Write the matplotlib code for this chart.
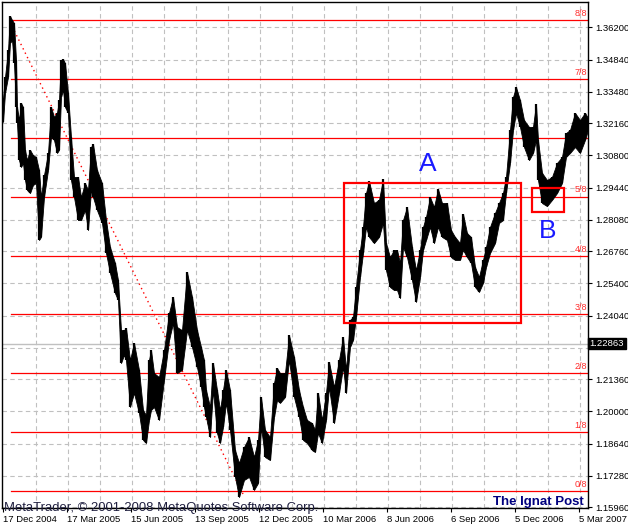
import matplotlib.pyplot as plt
from matplotlib.patches import Rectangle

# daily bars (bar index from 17 Dec 2004)
bars = [0, 2, 5, 7, 9, 11, 13, 14, 16, 18, 20, 22, 24, 27, 30, 33, 36, 38, 41, 45,
        48, 51, 54, 56, 58, 60, 62, 65, 68, 71, 75, 78, 82, 85, 88, 90, 94, 99, 103, 107,
        112, 115, 118, 121, 123, 127, 131, 136, 140, 143, 146, 148, 151, 156, 161, 166, 170, 174, 179, 184,
        189, 194, 198, 201, 203, 207, 210, 214, 217, 220, 223, 227, 232, 236, 241, 246, 251, 255, 258, 262,
        267, 271, 274, 277, 282, 286, 291, 296, 300, 304, 309, 312, 315, 319, 323, 326, 331, 336, 340, 343,
        347, 350, 353, 357, 360, 363, 366, 371, 376, 380, 383, 387, 391, 394, 397, 400, 404, 409, 413, 417,
        420, 423, 427, 431, 435, 439, 444, 448, 452, 457, 460, 464, 468, 472, 476, 480, 483, 487, 492, 496,
        500, 503, 507, 510, 513, 517, 521, 526, 530, 533, 535, 539, 544, 549, 554, 559, 563, 567, 572, 577,
        582, 585]
highs = [1.3322, 1.3410, 1.3524, 1.3668, 1.3651, 1.3638, 1.3482, 1.3284, 1.3229, 1.3301,
         1.3284, 1.3103, 1.3060, 1.3103, 1.3081, 1.3073, 1.3018, 1.2904, 1.2997, 1.3090,
         1.3284, 1.3242, 1.3259, 1.3313, 1.3482, 1.3486, 1.3469, 1.3343, 1.3157, 1.2989,
         1.2989, 1.2904, 1.2963, 1.2934, 1.3115, 1.3128, 1.3018, 1.2963, 1.2807, 1.2693,
         1.2626, 1.2554, 1.2343, 1.2343, 1.2352, 1.2217, 1.2289, 1.2175, 1.2006, 1.1985,
         1.2217, 1.2259, 1.2162, 1.2145, 1.2259, 1.2415, 1.2483, 1.2356, 1.2343, 1.2588,
         1.2483, 1.2343, 1.2272, 1.2217, 1.2090, 1.2019, 1.2204, 1.2090, 1.2006, 1.2090,
         1.2175, 1.2090, 1.1837, 1.1783, 1.1850, 1.1892, 1.1808, 1.1880, 1.2061, 1.1922,
         1.1892, 1.2120, 1.2183, 1.2162, 1.2162, 1.2322, 1.2230, 1.2090, 1.2019, 1.1964,
         1.1951, 1.1922, 1.2078, 1.1964, 1.2078, 1.2209, 1.2103, 1.2217, 1.2314, 1.2175,
         1.2386, 1.2398, 1.2525, 1.2681, 1.2778, 1.2921, 1.2972, 1.2879, 1.2892, 1.2980,
         1.2710, 1.2651, 1.2681, 1.2681, 1.2626, 1.2807, 1.2862, 1.2693, 1.2596, 1.2681,
         1.2778, 1.2820, 1.2904, 1.2862, 1.2938, 1.2879, 1.2879, 1.2765, 1.2736, 1.2710,
         1.2833, 1.2752, 1.2736, 1.2609, 1.2567, 1.2639, 1.2693, 1.2778, 1.2837, 1.2879,
         1.2921, 1.2989, 1.3187, 1.3326, 1.3368, 1.3313, 1.3229, 1.3200, 1.3200, 1.3296,
         1.3145, 1.3006, 1.2976, 1.2989, 1.3048, 1.3073, 1.3174, 1.3187, 1.3259, 1.3229,
         1.3259, 1.3238]
lows = [1.3221, 1.3343, 1.3410, 1.3554, 1.3566, 1.3469, 1.3284, 1.3216, 1.3060, 1.3031,
        1.3048, 1.2976, 1.2934, 1.2921, 1.2955, 1.2963, 1.2723, 1.2736, 1.2904, 1.3018,
        1.3157, 1.3145, 1.3090, 1.3103, 1.3326, 1.3356, 1.3284, 1.3259, 1.2976, 1.2904,
        1.2807, 1.2807, 1.2849, 1.2765, 1.2934, 1.2904, 1.2849, 1.2795, 1.2668, 1.2584,
        1.2499, 1.2470, 1.2204, 1.2238, 1.2217, 1.2019, 1.2078, 1.1993, 1.1880, 1.1867,
        1.1964, 1.2006, 1.2019, 1.1964, 1.2133, 1.2301, 1.2373, 1.2162, 1.2175, 1.2343,
        1.2272, 1.2187, 1.2103, 1.2019, 1.1977, 1.1892, 1.2090, 1.1909, 1.1867, 1.1934,
        1.2036, 1.1922, 1.1724, 1.1639, 1.1711, 1.1724, 1.1669, 1.1698, 1.1934, 1.1808,
        1.1795, 1.1977, 1.2048, 1.2036, 1.2061, 1.2217, 1.2061, 1.1977, 1.1880, 1.1867,
        1.1837, 1.1829, 1.1909, 1.1867, 1.1964, 1.2103, 1.1951, 1.2078, 1.2187, 1.2078,
        1.2272, 1.2301, 1.2398, 1.2567, 1.2668, 1.2778, 1.2736, 1.2710, 1.2736, 1.2795,
        1.2596, 1.2525, 1.2512, 1.2512, 1.2478, 1.2693, 1.2651, 1.2554, 1.2462, 1.2567,
        1.2681, 1.2723, 1.2778, 1.2710, 1.2778, 1.2736, 1.2723, 1.2651, 1.2639, 1.2639,
        1.2681, 1.2651, 1.2626, 1.2525, 1.2504, 1.2542, 1.2609, 1.2668, 1.2710, 1.2795,
        1.2807, 1.2921, 1.3048, 1.3187, 1.3259, 1.3200, 1.3115, 1.3060, 1.3090, 1.3145,
        1.2976, 1.2879, 1.2866, 1.2892, 1.2921, 1.2963, 1.3073, 1.3090, 1.3115, 1.3090,
        1.3145, 1.3187]

# Murrey math levels 0/8 .. 8/8
murrey_levels = [1.1665, 1.1913, 1.2161, 1.2409, 1.2657, 1.2906, 1.3154, 1.3402, 1.3650]
murrey_labels = ["0/8", "1/8", "2/8", "3/8", "4/8", "5/8", "6/8", "7/8", "8/8"]

price_ticks = [1.36200, 1.34840, 1.33480, 1.32160, 1.30800, 1.29440, 1.28080, 1.26760,
               1.25400, 1.24040, 1.22680, 1.21360, 1.20000, 1.18640, 1.17280, 1.15960]
date_labels = ["17 Dec 2004", "17 Mar 2005", "15 Jun 2005", "13 Sep 2005", "12 Dec 2005",
               "10 Mar 2006", "8 Jun 2006", "6 Sep 2006", "5 Dec 2006", "5 Mar 2007"]
date_bars = [0, 64, 128, 192, 256, 320, 384, 448, 512, 576]
current_price = 1.22863

# trend line from the high to the low, and the two boxes
trend_bars = [7, 240]
trend_prices = [1.3642, 1.1652]
box_a = [341, 518, 1.2373, 1.2963]
box_b = [529, 561, 1.2843, 1.2944]

plt.rcParams["font.family"] = ["Liberation Sans", "DejaVu Sans"]

fig = plt.figure(figsize=(6.28, 5.27), dpi=100)
ax = fig.add_axes([2 / 628, 19 / 527, 586 / 628, 506 / 527])
ax.set_xlim(-1, 585)
ax.set_ylim(1.15929, 1.37267)

# grid
for gx in range(32, 585, 32):
    ax.axvline(gx + 0.7, color="#c0c0c0", lw=0.8, ls=(0, (4, 3)), zorder=0)
for gy in price_ticks:
    ax.axhline(gy, color="#c0c0c0", lw=0.8, ls=(0, (4, 3)), zorder=0)

ax.axhline(current_price, color="#c0c0c0", lw=1, zorder=1)

for lvl, lab in zip(murrey_levels, murrey_labels):
    ax.plot([8, 585], [lvl, lvl], color="#ff0000", lw=0.9, zorder=2)
    ax.text(584, lvl + 0.0009, lab, color="#ff3030", fontsize=6.5, ha="right", va="bottom", zorder=2)

ax.plot(trend_bars, trend_prices, color="#ff0000", lw=1, ls=(0, (1, 2.5)), zorder=2)

# price bars: envelope plus the individual high-low spikes
ax.fill_between(bars, lows, highs, color="black", lw=0.6, edgecolor="black", zorder=3)
ax.vlines(bars, lows, highs, color="black", lw=1.6, zorder=3)

ax.add_patch(Rectangle((box_a[0], box_a[2]), box_a[1] - box_a[0], box_a[3] - box_a[2],
                       fill=False, edgecolor="#ff0000", lw=1.6, zorder=4))
ax.add_patch(Rectangle((box_b[0], box_b[2]), box_b[1] - box_b[0], box_b[3] - box_b[2],
                       fill=False, edgecolor="#ff0000", lw=1.6, zorder=4))
ax.text(425, 1.3043, "A", color="#1a1aff", fontsize=19, ha="center", va="center", zorder=5)
ax.text(545, 1.2760, "B", color="#1a1aff", fontsize=19, ha="center", va="center", zorder=5)

# axes
for side in ["left", "top", "right", "bottom"]:
    ax.spines[side].set_color("black")
    ax.spines[side].set_linewidth(1)
ax.yaxis.tick_right()
ax.set_yticks(price_ticks)
# the 1.22680 label sits under the current price box, so it is left blank
ax.set_yticklabels(["" if v == 1.22680 else "%.5f" % v for v in price_ticks], fontsize=6.8)
ax.tick_params(axis="y", direction="out", length=3, pad=2)
ax.set_xticks(date_bars)
ax.set_xticklabels(date_labels, fontsize=6.8, ha="left")
ax.tick_params(axis="x", direction="out", length=3, pad=2)

ax.text(1.003, current_price, "%.5f" % current_price, transform=ax.get_yaxis_transform(),
        color="white", fontsize=6.8, ha="left", va="center", zorder=6, clip_on=False,
        bbox=dict(boxstyle="square,pad=0.15", facecolor="black", edgecolor="black"))

fig.text(4 / 628, 1 - 510.5 / 527, "MetaTrader, \u00a9 2001-2008 MetaQuotes Software Corp.",
         fontsize=9.4, color="#202040", ha="left", va="baseline")
fig.text(584 / 628, 1 - 505 / 527, "The Ignat Post", fontsize=9.5, fontweight="bold",
         color="#000080", ha="right", va="baseline")

fig.savefig("out.png", dpi=100)
